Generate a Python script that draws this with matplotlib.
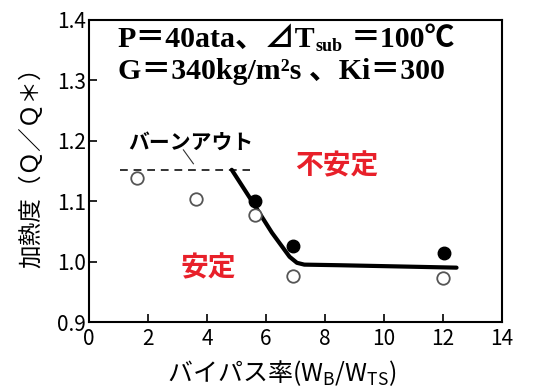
import matplotlib
matplotlib.use("Agg")
import matplotlib.pyplot as plt

plt.rcParams['font.family'] = ['Noto Sans CJK JP', 'DejaVu Sans']

# Measured points
open_x = [1.62, 3.63, 5.63, 6.93, 12.0]
open_y = [1.139, 1.103, 1.077, 0.977, 0.973]
filled_x = [5.63, 6.93, 12.05]
filled_y = [1.101, 1.026, 1.015]

# Burnout limit (dashed) and stability boundary (solid)
burnout_x = [1.05, 5.46]
burnout_y = [1.152, 1.152]
boundary_x = [4.84, 5.5, 6.2, 6.8, 7.05, 7.3, 8.5, 10.5, 12.46]
boundary_y = [1.152, 1.102, 1.048, 1.008, 0.998, 0.995, 0.994, 0.992, 0.990]

x_ticks = [0, 2, 4, 6, 8, 10, 12, 14]
y_ticks = [0.9, 1.0, 1.1, 1.2, 1.3, 1.4]

fig = plt.figure(figsize=(5.38, 3.89), dpi=100)
ax = fig.add_axes([0.1654, 0.1722, 0.933 - 0.1654, 0.9486 - 0.1722])

ax.plot(burnout_x, burnout_y, linestyle=(0, (4, 3)), color='#333333', lw=1.4)
ax.plot(boundary_x, boundary_y, color='black', lw=3.0, solid_capstyle='round')
ax.plot(open_x, open_y, 'o', mfc='white', mec='#555555', mew=1.3, ms=9)
ax.plot(filled_x, filled_y, 'o', color='black', ms=9)

ax.set_xlim(0, 14)
ax.set_ylim(0.9, 1.4)
ax.set_xticks(x_ticks)
ax.set_yticks(y_ticks)
ax.set_xticklabels([str(v) for v in x_ticks])
ax.set_yticklabels([f"{v:.1f}" for v in y_ticks])
ax.tick_params(direction='in', length=6, width=1.2, labelsize=15, colors='black')
ax.tick_params(axis='y', pad=2)
ax.tick_params(axis='x', pad=4)
for s in ax.spines.values():
    s.set_linewidth(1.5)
    s.set_color('black')

ax.set_xlabel("バイパス率(W$_\\mathregular{B}$/W$_\\mathregular{TS}$)", fontsize=18)
ax.xaxis.set_label_coords(0.467, -0.12)
ax.set_ylabel("加熱度（Ｑ／Ｑ＊）", fontsize=17)
ax.yaxis.set_label_coords(-0.111, 0.53)

# Condition header, built from pieces so the subscript sits low
hdr_family = ['Liberation Serif', 'Noto Sans CJK JP']
hdr_size = 21.5
x0 = 0.98
t1 = ax.text(x0, 1.367, "P＝40ata、⊿T", fontsize=hdr_size, fontweight='bold',
             family=hdr_family, ha='left', va='center')
ax.annotate("sub", xy=(1, 0.25), xycoords=t1, fontsize=13, fontweight='bold',
            family=hdr_family, ha='left', va='center')
ax.annotate("＝100℃", xy=(1, 0.5), xycoords=t1, xytext=(25, 0), textcoords='offset points',
            fontsize=hdr_size, fontweight='bold', family=hdr_family, ha='left', va='center')
ax.text(x0, 1.314, "G＝340kg/m²s 、Ki＝300", fontsize=hdr_size, fontweight='bold',
        family=hdr_family, ha='left', va='center')

ax.text(3.46, 1.198, "バーンアウト", fontsize=15, fontweight='bold', ha='center', va='center')
ax.plot([3.2, 3.54], [1.185, 1.162], color='#333333', lw=0.8)

ax.text(8.4, 1.157, "不安定", color='#e8202a', fontsize=20, fontweight='bold', ha='center', va='center')
ax.text(4.04, 0.989, "安定", color='#e8202a', fontsize=20, fontweight='bold', ha='center', va='center')

fig.savefig("out.png", dpi=100)
